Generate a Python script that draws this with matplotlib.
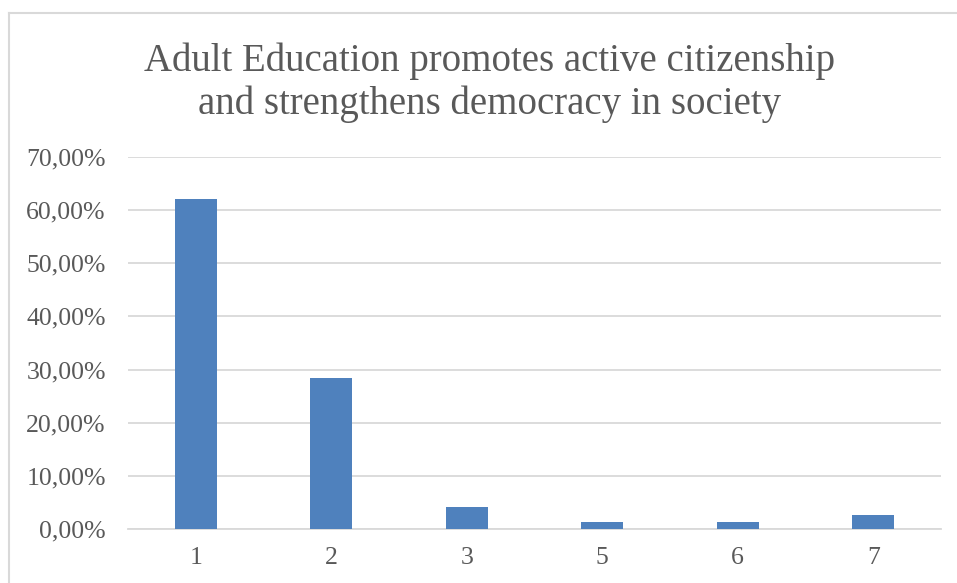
import matplotlib.pyplot as plt
import numpy as np
from matplotlib.ticker import FuncFormatter
from matplotlib.lines import Line2D

# answer categories and share of respondents
categories = ["1", "2", "3", "5", "6", "7"]
shares = [0.6216, 0.2838, 0.0405, 0.0135, 0.0135, 0.0270]

title = "Adult Education promotes active citizenship\nand strengthens democracy in society"

plt.rcParams['font.family'] = ['Liberation Serif', 'DejaVu Serif']
text_col = '#595959'
grid_col = '#D9D9D9'

fig = plt.figure(figsize=(9.57, 5.83), dpi=100)
ax = fig.add_axes([0.1338, 0.0926, 0.8495, 0.6381])

x = np.arange(len(categories))
ax.bar(x, shares, width=0.31, color='#4F81BD', zorder=3)

ax.set_xlim(-0.5, len(categories) - 0.5)
ax.set_ylim(0, 0.7)
ax.set_yticks(np.arange(0, 0.71, 0.1))
ax.yaxis.set_major_formatter(FuncFormatter(lambda v, p: ("%.2f%%" % (v * 100)).replace('.', ',')))
ax.set_xticks(x)
ax.set_xticklabels(categories)

ax.grid(axis='y', color=grid_col, linewidth=1.3, zorder=0)
for s in ['top', 'right', 'left']:
    ax.spines[s].set_visible(False)
ax.spines['bottom'].set_color(grid_col)
ax.spines['bottom'].set_linewidth(1.3)
ax.tick_params(axis='both', length=0, labelsize=18.5, labelcolor=text_col)
ax.tick_params(axis='y', pad=16)
ax.tick_params(axis='x', pad=13)

fig.text(0.511, 0.858, title, ha='center', va='center', fontsize=28,
         color=text_col, linespacing=1.2)

# chart frame (only top and left edges visible in the crop)
fig.add_artist(Line2D([9 / 957, 9 / 957], [0, 1 - 13 / 583], color=grid_col, linewidth=1.5,
                      transform=fig.transFigure))
fig.add_artist(Line2D([9 / 957, 1], [1 - 13 / 583, 1 - 13 / 583], color=grid_col, linewidth=1.5,
                      transform=fig.transFigure))

fig.savefig('out.png', dpi=100)
